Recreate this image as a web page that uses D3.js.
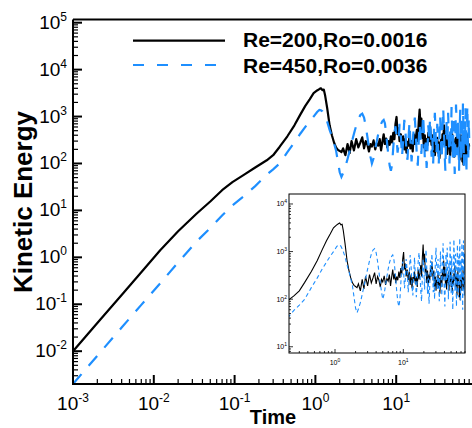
<!DOCTYPE html>
<html><head><meta charset="utf-8">
<script src="https://cdn.jsdelivr.net/npm/d3@7"></script>
<style>body{margin:0;background:#fff}svg{display:block}</style>
</head><body>
<svg id="c" width="472" height="428"></svg>
<script>
// ---------- DATA ----------
const seriesNames = ["Re=200,Ro=0.0016", "Re=450,Ro=0.0036"];
const tEarly = [0.001, 0.002, 0.004, 0.007, 0.012, 0.02, 0.034, 0.05, 0.07, 0.094, 0.13, 0.18, 0.25, 0.3, 0.36, 0.45, 0.55, 0.65, 0.75, 0.85, 0.95, 1.05, 1.12, 1.17, 1.22, 1.27, 1.32, 1.4, 1.5, 1.6, 1.7, 1.8, 1.9, 2.0];
const kinBlackEarly = [0.01, 0.04, 0.158, 0.48, 1.42, 3.6, 8.6, 15.5, 27, 40, 57, 82, 117, 150, 225, 380, 650, 1100, 1690, 2330, 3150, 3600, 3850, 4000, 3650, 3750, 2800, 1500, 650, 400, 280, 220, 195, 185];
const kinBlueEarly = [0.002, 0.008, 0.032, 0.097, 0.28, 0.78, 2.2, 4.2, 7.8, 12.8, 20, 33, 58, 75, 100, 175, 280, 430, 600, 800, 1000, 1250, 1380, 1360, 1300, 1150, 1000, 780, 520, 380, 270, 190, 110, 65];
const tLate = [2.1, 2.2, 2.35, 2.5, 2.65, 2.8, 3.0, 3.2, 3.4, 3.6, 3.8, 4.0, 4.2, 4.4, 4.6, 4.8,
  5.0, 5.25, 5.5, 5.75, 6.0, 6.25, 6.5, 6.75, 7.0, 7.25, 7.5, 7.75,
  8.0, 8.3, 8.6, 8.9, 9.2, 9.5, 9.8, 10.1, 10.4, 10.7,
  11.0, 11.4, 11.8, 12.2, 12.6, 13.0, 13.4, 13.8, 14.2, 14.6,
  15, 15.5, 16, 16.5, 17, 17.5, 18, 18.5, 19, 19.5, 20, 20.5, 21, 21.5,
  22, 22.6, 23.2, 23.8, 24.4, 25, 25.6, 26.2, 26.8, 27.4, 28,
  28.7, 29.4, 30.1, 30.8, 31.5, 32.2, 32.9, 33.6, 34.3, 35,
  35.8, 36.6, 37.4, 38.2, 39, 39.8, 40.6, 41.4, 42.2, 43,
  43.9, 44.8, 45.7, 46.6, 47.5, 48.4, 49.3, 50.2, 51.1, 52,
  53, 54, 55, 56, 57, 58, 59, 60, 61, 62, 63, 64, 65, 66, 67, 68, 69, 70,
  71, 72, 73, 74, 75, 76, 77, 78, 79, 80];
const kinBlackLate = [175, 210, 150, 260, 165, 300, 190, 330, 220, 280, 360, 210, 300, 250, 180, 260,
  230, 310, 200, 270, 240, 330, 190, 290, 420, 260, 340, 220,
  300, 250, 380, 280, 450, 330, 700, 980, 420, 560,
  300, 420, 250, 380, 200, 330, 170, 290, 240, 380,
  210, 300, 180, 420, 260, 350, 520, 300, 750, 1400, 600, 900, 350, 480,
  220, 400, 190, 330, 250, 450, 300, 620, 380, 250, 400,
  180, 300, 150, 260, 200, 350, 170, 280, 130, 240,
  320, 180, 420, 260, 650, 300, 480, 200, 350, 160,
  280, 220, 380, 150, 300, 230, 420, 180, 330, 140,
  260, 200, 350, 240, 500, 280, 180, 320, 120, 250, 400, 190, 300, 110, 230, 95, 260, 180,
  350, 150, 280, 210, 420, 160, 300, 200, 260, 230];
const kinBlueLate = [52, 62, 85, 125, 185, 270, 430, 640, 880, 1080, 1150, 950, 620, 370, 220, 140,
  100, 130, 200, 300, 430, 570, 700, 800, 850, 720, 450, 250,
  150, 90, 70, 95, 220, 450, 620, 380, 170, 260,
  700, 400, 140, 300, 850, 500, 180, 120, 350, 750,
  300, 110, 260, 600, 950, 400, 150, 90, 300, 700, 380, 160, 420, 1100,
  500, 130, 280, 80, 200, 650, 300, 900, 420, 140, 350,
  100, 550, 1200, 400, 160, 700, 250, 90, 400, 1000,
  300, 120, 600, 1500, 500, 150, 70, 350, 900, 250,
  1200, 400, 100, 600, 200, 1600, 500, 130, 800, 250,
  60, 400, 1800, 600, 150, 900, 300, 70, 500, 1400, 350, 110, 800, 200, 1900, 500, 90, 650,
  250, 1500, 400, 60, 700, 1700, 300, 120, 900, 350];
const xTickExps = [-3, -2, -1, 0, 1];
const yTickExps = [-2, -1, 0, 1, 2, 3, 4, 5];
const insetXTickExps = [0, 1];
const insetYTickExps = [1, 2, 3, 4];

// ---------- BUILD ----------
const black = tEarly.map((t, i) => [t, kinBlackEarly[i]]).concat(tLate.map((t, i) => [t, kinBlackLate[i]]));
const blue = tEarly.map((t, i) => [t, kinBlueEarly[i]]).concat(tLate.map((t, i) => [t, kinBlueLate[i]]));
const BLUE = "#1e8fff";
const FONT = "Liberation Sans, Arial, Helvetica, sans-serif";

const svg = d3.select("#c");
svg.append("rect").attr("width", 472).attr("height", 428).attr("fill", "#fff");

const x = d3.scaleLog().domain([1e-3, 100]).range([73, 477]);
const y = d3.scaleLog().domain([2e-3, 1.17e5]).range([384, 19.5]);

function logTicks(scale) {
  const [a, b] = scale.domain();
  const out = [];
  for (let e = Math.floor(Math.log10(a)); e <= Math.ceil(Math.log10(b)); e++)
    for (let k = 1; k < 10; k++) {
      const v = k * Math.pow(10, e);
      if (v >= a * 0.999 && v <= b * 1.001) out.push({ v, major: k === 1 });
    }
  return out;
}

function supLabel(g, px, py, exp, size, supSize, rise, anchor) {
  const t = g.append("text").attr("x", px).attr("y", py)
    .attr("font-family", FONT).attr("font-size", size).attr("fill", "#000")
    .attr("text-anchor", anchor);
  t.append("tspan").text("10");
  t.append("tspan").attr("dy", -rise).attr("font-size", supSize).text(String(exp));
}

const defs = svg.append("defs");
defs.append("clipPath").attr("id", "mainClip").append("rect")
  .attr("x", 73).attr("y", 19.5).attr("width", 404).attr("height", 364.5);

const line = d3.line().x(d => x(d[0])).y(d => y(d[1]));
const plot = svg.append("g").attr("clip-path", "url(#mainClip)");
plot.append("path").attr("d", line(black)).attr("fill", "none").attr("stroke", "#000")
  .attr("stroke-width", 2.2).attr("stroke-linejoin", "round");
plot.append("path").attr("d", line(blue)).attr("fill", "none").attr("stroke", BLUE)
  .attr("stroke-width", 2.2).attr("stroke-dasharray", "13,11");

const ax = svg.append("g");
ax.append("line").attr("x1", 73).attr("x2", 472).attr("y1", 19.5).attr("y2", 19.5).attr("stroke", "#000").attr("stroke-width", 2);
ax.append("line").attr("x1", 73).attr("x2", 73).attr("y1", 19.5).attr("y2", 384).attr("stroke", "#000").attr("stroke-width", 2);
ax.append("line").attr("x1", 72).attr("x2", 472).attr("y1", 384).attr("y2", 384).attr("stroke", "#000").attr("stroke-width", 2);

logTicks(x).forEach(tk => {
  const px = x(tk.v);
  if (px > 472) return;
  ax.append("line").attr("x1", px).attr("x2", px).attr("y1", 384).attr("y2", 384 - (tk.major ? 9 : 5))
    .attr("stroke", "#000").attr("stroke-width", tk.major ? 2 : 1.2);
});
logTicks(y).forEach(tk => {
  const py = y(tk.v);
  ax.append("line").attr("x1", 73).attr("x2", 73 + (tk.major ? 9 : 5)).attr("y1", py).attr("y2", py)
    .attr("stroke", "#000").attr("stroke-width", tk.major ? 2 : 1.2);
});
xTickExps.forEach(e => supLabel(ax, x(Math.pow(10, e)), 410, e, 19, 12, 8, "middle"));
yTickExps.forEach(e => supLabel(ax, 67, y(Math.pow(10, e)) + 6, e, 19, 12, 8, "end"));

svg.append("text").attr("transform", "translate(32,202) rotate(-90)").attr("text-anchor", "middle")
  .attr("font-family", FONT).attr("font-weight", "bold").attr("font-size", 26).text("Kinetic Energy");
svg.append("text").attr("x", 273).attr("y", 424).attr("text-anchor", "middle")
  .attr("font-family", FONT).attr("font-weight", "bold").attr("font-size", 20).text("Time");

const lg = svg.append("g");
lg.append("line").attr("x1", 133).attr("x2", 225).attr("y1", 40.7).attr("y2", 40.7).attr("stroke", "#000").attr("stroke-width", 2.2);
lg.append("line").attr("x1", 133).attr("x2", 217).attr("y1", 65).attr("y2", 65).attr("stroke", BLUE).attr("stroke-width", 2.2).attr("stroke-dasharray", "11,13");
lg.append("text").attr("x", 243).attr("y", 47).attr("font-family", FONT).attr("font-weight", "bold").attr("font-size", 21).text(seriesNames[0]);
lg.append("text").attr("x", 243).attr("y", 72.5).attr("font-family", FONT).attr("font-weight", "bold").attr("font-size", 21).text(seriesNames[1]);

// ---------- INSET ----------
const ix = d3.scaleLog().domain([0.212, 80]).range([289, 465]);
const iy = d3.scaleLog().domain([7.4, 16200]).range([353, 194]);
const ins = svg.append("g");
ins.append("rect").attr("x", 289).attr("y", 194).attr("width", 176).attr("height", 159).attr("fill", "#fff");
defs.append("clipPath").attr("id", "inClip").append("rect").attr("x", 289).attr("y", 194).attr("width", 176).attr("height", 159);
const iline = d3.line().x(d => ix(d[0])).y(d => iy(d[1]));
const ip = ins.append("g").attr("clip-path", "url(#inClip)");
ip.append("path").attr("d", iline(black)).attr("fill", "none").attr("stroke", "#000").attr("stroke-width", 1.1);
ip.append("path").attr("d", iline(blue)).attr("fill", "none").attr("stroke", BLUE).attr("stroke-width", 1.1).attr("stroke-dasharray", "4,3");
ins.append("rect").attr("x", 289).attr("y", 194).attr("width", 176).attr("height", 159).attr("fill", "none").attr("stroke", "#000").attr("stroke-width", 1);
logTicks(ix).forEach(tk => {
  const px = ix(tk.v);
  ins.append("line").attr("x1", px).attr("x2", px).attr("y1", 353).attr("y2", 353 - (tk.major ? 4 : 2)).attr("stroke", "#000").attr("stroke-width", 0.8);
});
logTicks(iy).forEach(tk => {
  const py = iy(tk.v);
  ins.append("line").attr("x1", 289).attr("x2", 289 + (tk.major ? 4 : 2)).attr("y1", py).attr("y2", py).attr("stroke", "#000").attr("stroke-width", 0.8);
});
insetXTickExps.forEach(e => supLabel(ins, ix(Math.pow(10, e)), 365, e, 7, 5, 3, "middle"));
insetYTickExps.forEach(e => supLabel(ins, 287, iy(Math.pow(10, e)) + 2.5, e, 7, 5, 3, "end"));
</script>
</body></html>
